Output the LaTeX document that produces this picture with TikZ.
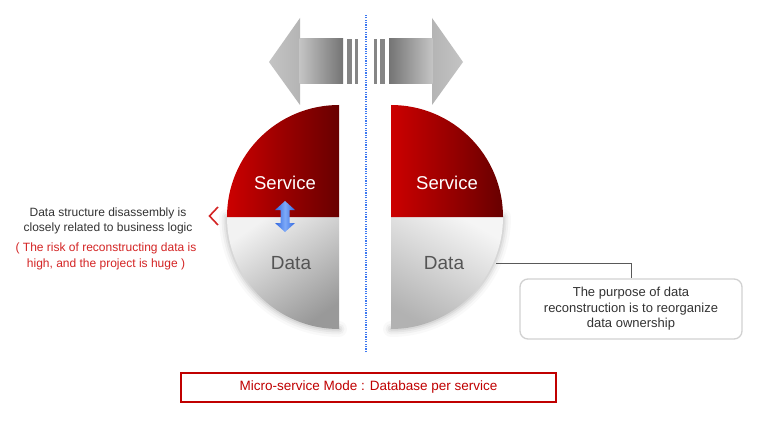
\documentclass[tikz,border=0pt]{standalone}
\usepackage{fontspec}
\setmainfont{Liberation Sans}
\definecolor{srvlight}{HTML}{CC0000}
\definecolor{srvdark}{HTML}{680000}
\definecolor{redtxt}{HTML}{D42424}
\definecolor{boxred}{HTML}{C00000}
\definecolor{dotblue}{HTML}{3D78F0}
\definecolor{txtgray}{HTML}{333333}
\definecolor{datatxt}{HTML}{555555}
\definecolor{arrlight}{HTML}{C4C4C4}
\definecolor{arrdark}{HTML}{747474}
\definecolor{stripe}{HTML}{858585}
\definecolor{bluedark}{HTML}{2F66E0}
\definecolor{bluelight}{HTML}{7EAAF8}
\begin{document}
\begin{tikzpicture}[x=1pt,y=1pt,
  svc/.style={left color=srvlight, right color=srvdark},
  svclabel/.style={text=white, inner sep=0pt, font=\fontsize{18.5}{20}\selectfont},
  datalabel/.style={text=datatxt, inner sep=0pt, font=\fontsize{19}{20}\selectfont},
  notetext/.style={inner sep=0pt, align=center, font=\fontsize{12}{15}\selectfont},
  glow/.style={draw=black, line cap=round},
  arrhead/.style={left color=arrlight, right color=arrlight!92!black},
  stripebar/.style={fill=stripe}
]
\useasboundingbox[fill=white] (0,0) rectangle (768,429);

% divider
\draw[dotblue, line width=1.2pt, dash pattern=on 1.2pt off 1.2pt] (366,77) -- (366,415);

% left arrow
\shade[arrhead] (269,367) -- (300,411) -- (300,324) -- cycle;
\shade[left color=arrlight, right color=arrdark] (299.5,345) rectangle (343,390);
\fill[stripebar] (347,345) rectangle (352,390);
\fill[stripebar] (355,345) rectangle (358,390);
% right arrow
\shade[left color=arrlight!92!black, right color=arrlight] (463,367) -- (432,411) -- (432,324) -- cycle;
\shade[left color=arrdark, right color=arrlight] (389,345) rectangle (432.5,390);
\fill[stripebar] (380,345) rectangle (385,390);
\fill[stripebar] (374,345) rectangle (377,390);

% glows of data pieces
\foreach \w/\o in {16/0.025, 11/0.035, 7/0.045, 3.5/0.06} {
  \draw[glow, line width=\w pt, opacity=\o] (227,212) arc[start angle=180, end angle=270, radius=112];
  \draw[glow, line width=\w pt, opacity=\o] (503,212) arc[start angle=0, end angle=-90, radius=112];
}

% left data
\shade[top color=white!95!black, bottom color=black!40, shading angle=35]
  (227,212) arc[start angle=180, end angle=270, radius=112] -- (339,212) -- cycle;
% right data
\shade[top color=white!96!black, bottom color=black!30, shading angle=-30]
  (503,212) arc[start angle=0, end angle=-90, radius=112] -- (391,212) -- cycle;

% services
\shade[svc] (227,212) arc[start angle=180, end angle=90, radius=112] -- (339,212) -- cycle;
\shade[svc] (391,324) arc[start angle=90, end angle=0, radius=112] -- (391,212) -- cycle;

\node[svclabel] (svcL) at (285,246) {Service};
\node[svclabel] (svcR) at (447,246) {Service};
\node[datalabel] (dataL) at (291,166) {Data};
\node[datalabel] (dataR) at (444,166) {Data};

% blue double arrow
\shade[left color=bluedark, right color=bluedark, middle color=bluelight]
  (285,228) -- (295,219) -- (289.5,219) -- (289.5,206) -- (295,206) -- (285,197)
  -- (275,206) -- (280.5,206) -- (280.5,219) -- (275,219) -- cycle;

% left notes
\node[notetext, text=txtgray] (noteA) at (108,208.5)
  {Data structure disassembly is\\closely related to business logic};
\node[notetext, text=redtxt, font=\fontsize{12}{16.5}\selectfont] (noteB) at (106,172.5)
  {( The risk of reconstructing data is\\high, and the project is huge )};
\draw[redtxt, line width=1.6pt] (218,222) -- (209.5,213) -- (218,204);

% callout
\node[draw=black!18, line width=1.3pt, rounded corners=8pt, minimum width=222pt,
  minimum height=60pt, align=center, text=txtgray, inner sep=0pt,
  font=\fontsize{13}{15.5}\selectfont] (purpose) at (631,120)
  {The purpose of data\\reconstruction is to reorganize\\data ownership};
\coordinate (cstart) at (496,166);
\draw[black!65, line width=0.9pt] (cstart) -| (purpose.north);

% bottom caption
\node[draw=boxred, line width=2pt, minimum width=375pt, minimum height=29pt,
  text=boxred, inner sep=0pt, font=\fontsize{13.5}{15}\selectfont] (caption) at (368.5,41.5)
  {Micro-service Mode : Database per service};
\end{tikzpicture}
\end{document}
